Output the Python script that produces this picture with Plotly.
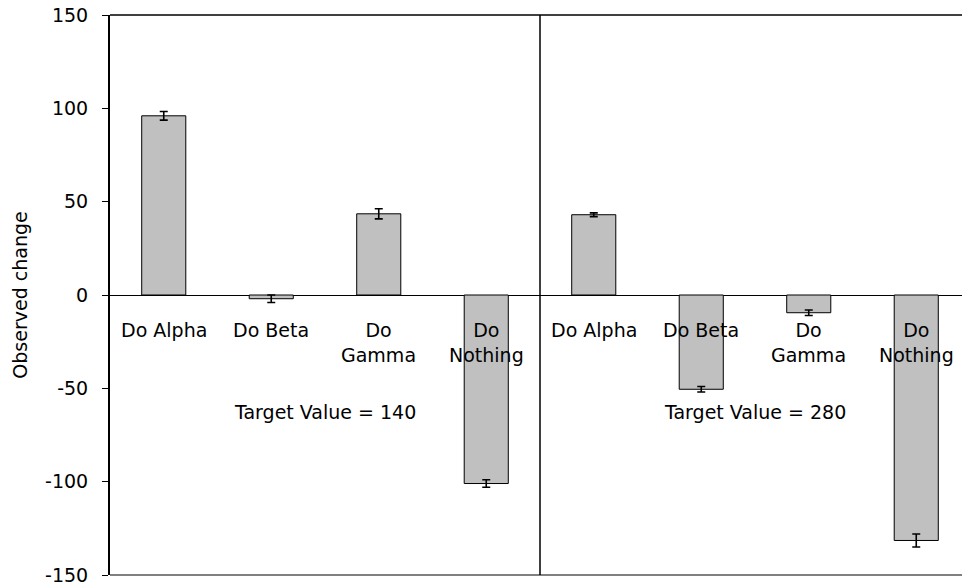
import plotly.graph_objects as go

# Data
categories = ["Do Alpha", "Do Beta", "Do<br>Gamma", "Do<br>Nothing",
              "Do Alpha", "Do Beta", "Do<br>Gamma", "Do<br>Nothing"]
values = [96, -2, 43.5, -101, 43, -50.5, -9.5, -131.5]
errors = [2.3, 2.0, 2.7, 2.0, 1.0, 1.5, 1.5, 3.5]
group_labels = ["Target Value = 140", "Target Value = 280"]
y_ticks = [-150, -100, -50, 0, 50, 100, 150]

FONT = "DejaVu Sans"
FS = 19

x = list(range(len(values)))

fig = go.Figure()
fig.add_trace(go.Bar(
    x=x, y=values, width=0.41,
    marker=dict(color="#C0C0C0", line=dict(color="#000000", width=1)),
    error_y=dict(type="data", array=errors, visible=True,
                 color="#000000", thickness=1.6, width=4),
    showlegend=False, hoverinfo="skip",
))

annotations = []
for i, c in enumerate(categories):
    annotations.append(dict(
        x=i, y=0, xref="x", yref="y", text=c, showarrow=False,
        yanchor="top", xanchor="center", yshift=-22,
        font=dict(family=FONT, size=FS, color="#000000"), align="center",
    ))
for gi, g in enumerate(group_labels):
    annotations.append(dict(
        x=1.5 + 4 * gi, y=-62.7, xref="x", yref="y", text=g, showarrow=False,
        yanchor="middle", xanchor="center",
        font=dict(family=FONT, size=FS, color="#000000"),
    ))

shapes = [
    # top border
    dict(type="line", xref="paper", yref="paper", x0=0, x1=1, y0=1, y1=1,
         line=dict(color="#000000", width=1.5)),
    # bottom border (gray)
    dict(type="line", xref="paper", yref="paper", x0=0, x1=1, y0=0, y1=0,
         line=dict(color="#808080", width=2)),
    # group divider
    dict(type="line", xref="x", yref="paper", x0=3.5, x1=3.5, y0=0, y1=1,
         line=dict(color="#000000", width=1.5)),
]

fig.update_layout(
    width=962, height=588,
    margin=dict(l=110, r=0, t=15, b=13, autoexpand=False),
    plot_bgcolor="white", paper_bgcolor="white",
    font=dict(family=FONT, size=FS, color="#000000"),
    annotations=annotations, shapes=shapes,
    hovermode=False,
    xaxis=dict(range=[-0.5, 7.5 - 8 / 107.5], showticklabels=False,
               showgrid=False, zeroline=False, showline=False, ticks="",
               automargin=False),
    yaxis=dict(range=[-150, 150], tickvals=y_ticks,
               ticktext=[str(v) for v in y_ticks], automargin=False,
               ticklabeloverflow="allow",
               showgrid=False, zeroline=True, zerolinecolor="#000000",
               zerolinewidth=1, showline=True, linecolor="#000000",
               linewidth=2, ticks="outside", ticklen=6, tickwidth=1,
               tickcolor="#000000", ticklabelstandoff=10,
               tickfont=dict(family=FONT, size=FS),
               title=dict(text="Observed change", standoff=12,
                          font=dict(family=FONT, size=FS))),
)

fig.write_html("out.html",
               config={"displayModeBar": False, "staticPlot": True},
               post_script="document.body.style.margin='0';"
                           "document.body.style.overflow='hidden';")
